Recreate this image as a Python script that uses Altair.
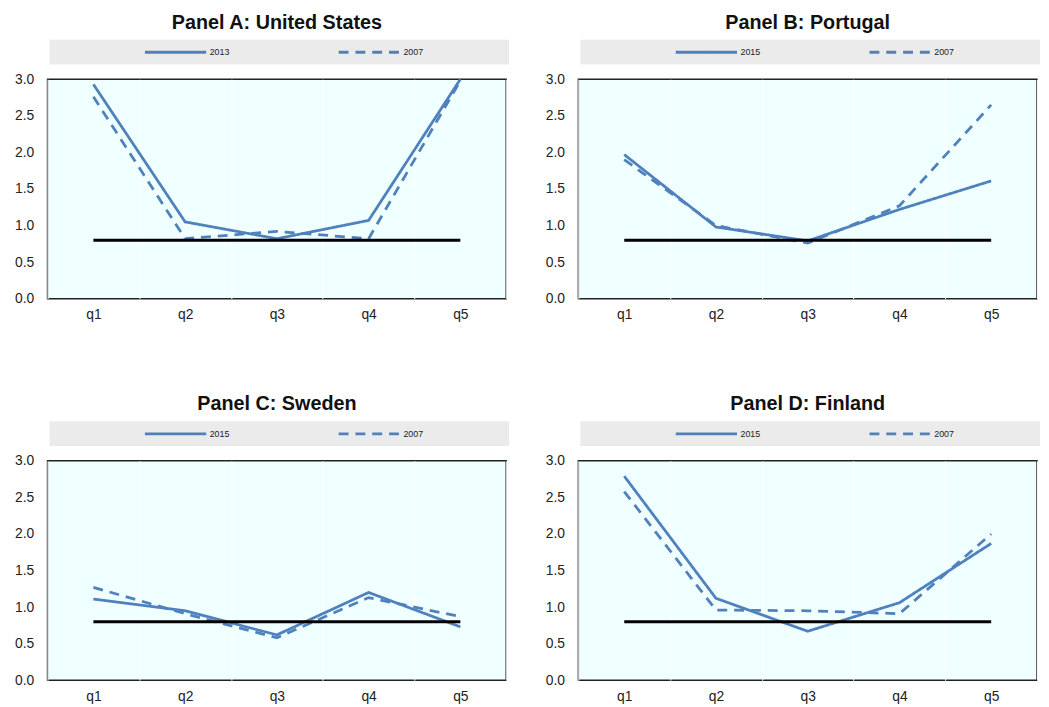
import altair as alt
import pandas as pd

quintiles = ["q1", "q2", "q3", "q4", "q5"]
panel_titles = ["Panel A: United States", "Panel B: Portugal", "Panel C: Sweden", "Panel D: Finland"]
recent_years = ["2013", "2015", "2015", "2015"]
base_year = "2007"

us_recent = [2.93, 1.05, 0.82, 1.07, 3.00]
us_base = [2.76, 0.82, 0.92, 0.82, 2.98]
pt_recent = [1.97, 0.98, 0.79, 1.22, 1.61]
pt_base = [1.90, 1.00, 0.76, 1.27, 2.65]
se_recent = [1.11, 0.95, 0.62, 1.20, 0.73]
se_base = [1.27, 0.91, 0.58, 1.13, 0.87]
fi_recent = [2.79, 1.12, 0.67, 1.06, 1.87]
fi_base = [2.58, 0.96, 0.95, 0.91, 2.00]
reference_level = 0.8

y_ticks = [0.0, 0.5, 1.0, 1.5, 2.0, 2.5, 3.0]

BLUE = "#4F81BD"
NARROW = "Liberation Sans Narrow, Arial Narrow, Liberation Sans, sans-serif"
SANS = "Liberation Sans, Arial, sans-serif"
W, H = 464, 222


def panel(title, recent_label, recent, base):
    df = pd.DataFrame({
        "q": quintiles * 2,
        "value": recent + base,
        "series": [recent_label] * 5 + [base_year] * 5,
    })
    ref = pd.DataFrame({"q": quintiles, "value": [reference_level] * 5})
    xenc = alt.X(
        "q:N", sort=quintiles, bandPosition=0.5,
        scale=alt.Scale(type="band", domain=quintiles, paddingInner=0, paddingOuter=0),
        axis=alt.Axis(title=None, labelAngle=0, tickBand="extent", grid=True, gridColor="#FFFFFF",
                      gridWidth=1, domain=False, ticks=False, labelPadding=9,
                      labelFont=SANS, labelFontSize=14, labelColor="#222222"),
    )
    yenc = alt.Y(
        "value:Q",
        scale=alt.Scale(domain=[0, 3], nice=False, zero=True),
        axis=alt.Axis(title=None, values=y_ticks, format=".1f", grid=False, domain=False,
                      ticks=True, tickSize=0, labelOverlap=False, tickCount=7,
                      labelPadding=14, labelFont=SANS, labelFontSize=14, labelColor="#222222"),
    )
    band = alt.Chart(pd.DataFrame({"band": [0]})).mark_rect(color="#EBEBEB").encode(
        x=alt.value(2), x2=alt.value(W + 3), y=alt.value(-40), y2=alt.value(-15)
    )
    lines = alt.Chart(df).mark_line(color=BLUE, strokeWidth=2.8).encode(
        x=xenc,
        y=yenc,
        detail="series:N",
        strokeDash=alt.StrokeDash(
            "series:N",
            scale=alt.Scale(domain=[recent_label, base_year], range=[[1, 0], [10, 7]]),
            legend=alt.Legend(
                title=None, orient="none", legendX=97, legendY=-60, direction="horizontal",
                symbolType="stroke", symbolSize=3844, symbolStrokeWidth=3,
                symbolStrokeColor=BLUE,
                labelFont=NARROW, labelFontSize=9, labelColor="#222222", labelOffset=2,
                columnPadding=103,
            ),
        ),
    )
    refline = alt.Chart(ref).mark_line(color="#000000", strokeWidth=3).encode(
        x=xenc, y=yenc
    )
    return alt.layer(band, lines, refline).properties(
        width=W, height=H,
        title=alt.TitleParams(title, font=NARROW, fontSize=20, fontWeight="bold", color="#111111",
                              anchor="middle", offset=-13),
    )


p1 = panel(panel_titles[0], recent_years[0], us_recent, us_base)
p2 = panel(panel_titles[1], recent_years[1], pt_recent, pt_base)
p3 = panel(panel_titles[2], recent_years[2], se_recent, se_base)
p4 = panel(panel_titles[3], recent_years[3], fi_recent, fi_base)

row1 = alt.hconcat(p1, p2, spacing=34).resolve_scale(strokeDash="independent").resolve_legend(
    strokeDash="independent")
row2 = alt.hconcat(p3, p4, spacing=34).resolve_scale(strokeDash="independent").resolve_legend(
    strokeDash="independent")
chart = alt.vconcat(row1, row2, spacing=72).resolve_scale(
    strokeDash="independent"
).resolve_legend(strokeDash="independent").configure(
    background="#FFFFFF", padding={"left": 5, "top": 0, "right": 0, "bottom": 0}
).configure_view(
    fill="#F0FFFF", stroke="#222222", strokeWidth=1.5
)

chart.save("out.html", embed_options={"renderer": "svg", "actions": False})
